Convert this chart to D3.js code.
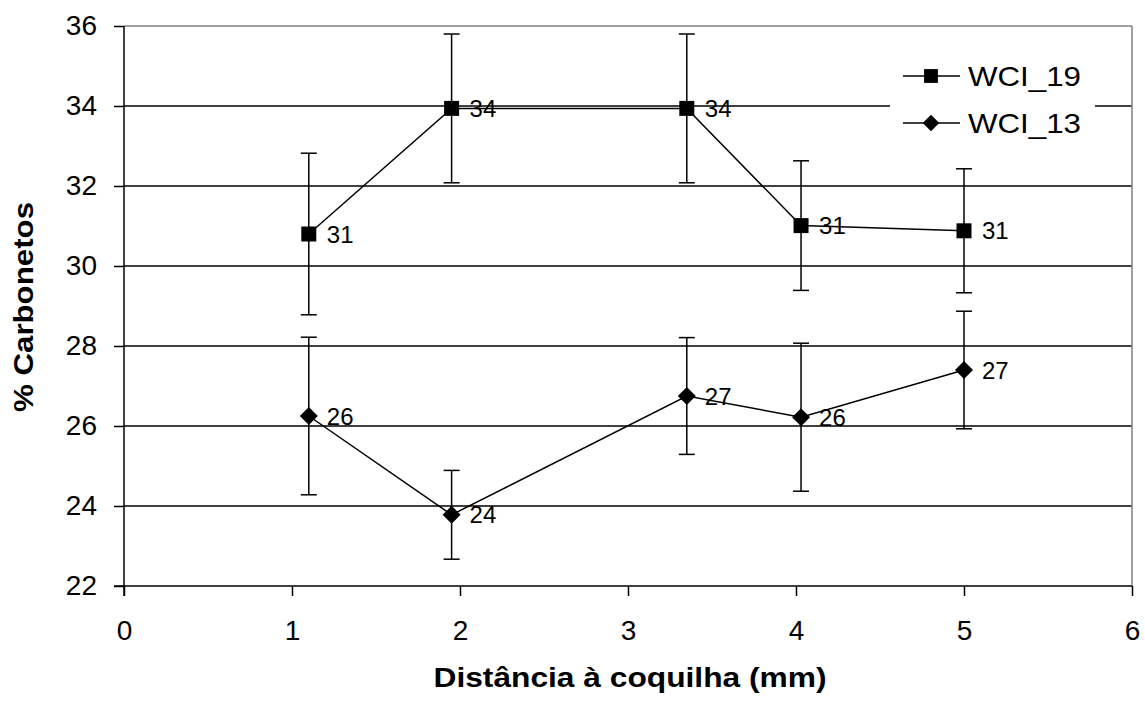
<!DOCTYPE html>
<html>
<head>
<meta charset="utf-8">
<script src="https://cdn.jsdelivr.net/npm/d3@7"></script>
<style>
  html, body { margin: 0; padding: 0; background: #fff; }
  svg { display: block; font-family: "Liberation Sans", Arial, sans-serif; }
</style>
</head>
<body>
<svg id="chart" width="1145" height="702"></svg>
<script>
// Distance from the chill (mm) for each measurement
const distWCI19 = [1.10, 1.95, 3.35, 4.03, 5.00];
const valWCI19  = [30.80, 33.94, 33.94, 31.01, 30.88];
const errWCI19  = [2.02, 1.86, 1.86, 1.62, 1.55];

const distWCI13 = [1.10, 1.95, 3.35, 4.03, 5.00];
const valWCI13  = [26.25, 23.78, 26.75, 26.22, 27.40];
const errWCI13  = [1.97, 1.11, 1.46, 1.85, 1.47];

const seriesNames = ["WCI_19", "WCI_13"];
const xTicks = [0, 1, 2, 3, 4, 5, 6];
const yTicks = [22, 24, 26, 28, 30, 32, 34, 36];

const margin = { left: 124, top: 26, right: 13, bottom: 116 };
const W = 1145, H = 702;
const innerW = W - margin.left - margin.right;
const innerH = H - margin.top - margin.bottom;

const svg = d3.select("#chart");
const g = svg.append("g").attr("transform", `translate(${margin.left},${margin.top})`);

const x = d3.scaleLinear().domain([0, 6]).range([0, innerW]);
const y = d3.scaleLinear().domain([22, 36]).range([innerH, 0]);

// diamond drawn as a square turned 45 degrees
const symbolRhomb = {
  draw(ctx, size) {
    const r = Math.sqrt(size / 2);
    ctx.moveTo(0, -r);
    ctx.lineTo(r, 0);
    ctx.lineTo(0, r);
    ctx.lineTo(-r, 0);
    ctx.closePath();
  }
};

// horizontal gridlines (top one is the grey plot border)
g.selectAll("line.grid").data(yTicks.filter(t => t > 22)).join("line")
  .attr("class", "grid")
  .attr("x1", 0).attr("x2", innerW)
  .attr("y1", d => y(d)).attr("y2", d => y(d))
  .attr("stroke", d => d === 36 ? "#808080" : "#000")
  .attr("stroke-width", 1.5);

// right plot border
g.append("line")
  .attr("x1", innerW).attr("x2", innerW)
  .attr("y1", 0).attr("y2", innerH)
  .attr("stroke", "#808080").attr("stroke-width", 1.5);

// axes
const yAxis = g.append("g").call(
  d3.axisLeft(y).tickValues(yTicks).tickSize(10).tickPadding(17).tickFormat(d3.format("d"))
);
const xAxis = g.append("g").attr("transform", `translate(0,${innerH})`).call(
  d3.axisBottom(x).tickValues(xTicks).tickSize(10).tickPadding(24).tickFormat(d3.format("d"))
);
[yAxis, xAxis].forEach(ax => {
  ax.select(".domain").remove();
  ax.selectAll(".tick line").attr("stroke", "#000").attr("stroke-width", 1.5);
  ax.selectAll(".tick text").attr("fill", "#000")
    .style("font-size", "28px").style("font-family", "'Liberation Sans', Arial, sans-serif");
});
// axis lines
g.append("line").attr("x1", 0).attr("x2", 0).attr("y1", 0).attr("y2", innerH + 10)
  .attr("stroke", "#000").attr("stroke-width", 1.5);
g.append("line").attr("x1", -10).attr("x2", innerW).attr("y1", innerH).attr("y2", innerH)
  .attr("stroke", "#000").attr("stroke-width", 1.5);

// legend background (drawn before the data so it only hides gridlines)
const legend = g.append("g").attr("transform", `translate(${x(0) + 766},29)`);
legend.append("rect").attr("x", 0).attr("y", 0).attr("width", 205).attr("height", 90).attr("fill", "#fff");

const series = [
  { name: seriesNames[0], xs: distWCI19, ys: valWCI19, es: errWCI19, symbol: d3.symbolSquare, size: 225 },
  { name: seriesNames[1], xs: distWCI13, ys: valWCI13, es: errWCI13, symbol: symbolRhomb, size: 162 }
];

const line = d3.line().x(d => x(d.x)).y(d => y(d.y));

series.forEach(s => {
  const pts = s.xs.map((xv, i) => ({ x: xv, y: s.ys[i], e: s.es[i] }));
  const sg = g.append("g");

  // error bars
  const eb = sg.selectAll("g.err").data(pts).join("g").attr("class", "err");
  eb.append("line")
    .attr("x1", d => x(d.x)).attr("x2", d => x(d.x))
    .attr("y1", d => y(d.y + d.e)).attr("y2", d => y(d.y - d.e))
    .attr("stroke", "#000").attr("stroke-width", 1.5);
  eb.append("line")
    .attr("x1", d => x(d.x) - 8).attr("x2", d => x(d.x) + 8)
    .attr("y1", d => y(d.y + d.e)).attr("y2", d => y(d.y + d.e))
    .attr("stroke", "#000").attr("stroke-width", 1.5);
  eb.append("line")
    .attr("x1", d => x(d.x) - 8).attr("x2", d => x(d.x) + 8)
    .attr("y1", d => y(d.y - d.e)).attr("y2", d => y(d.y - d.e))
    .attr("stroke", "#000").attr("stroke-width", 1.5);

  // connecting line
  sg.append("path").datum(pts).attr("d", line)
    .attr("fill", "none").attr("stroke", "#000").attr("stroke-width", 1.5);

  // markers
  sg.selectAll("path.mk").data(pts).join("path").attr("class", "mk")
    .attr("d", d3.symbol().type(s.symbol).size(s.size))
    .attr("transform", d => `translate(${x(d.x)},${y(d.y)})`)
    .attr("fill", "#000");

  // value labels
  sg.selectAll("text.lbl").data(pts).join("text").attr("class", "lbl")
    .attr("x", d => x(d.x) + 18).attr("y", d => y(d.y))
    .attr("dy", "0.36em")
    .style("font-size", "24px")
    .attr("fill", "#000")
    .text(d => Math.round(d.y));
});

// legend entries
series.forEach((s, i) => {
  const row = legend.append("g").attr("transform", `translate(0,${21 + i * 47})`);
  row.append("line").attr("x1", 13).attr("x2", 70).attr("y1", 0).attr("y2", 0)
    .attr("stroke", "#000").attr("stroke-width", 1.5);
  row.append("path").attr("d", d3.symbol().type(s.symbol).size(s.size * 0.85)())
    .attr("transform", "translate(41,0)").attr("fill", "#000");
  row.append("text").attr("x", 78).attr("y", 0).attr("dy", "0.36em")
    .style("font-size", "28px").attr("textLength", 113).attr("lengthAdjust", "spacingAndGlyphs")
    .attr("fill", "#000").text(s.name);
});

// axis titles
svg.append("text")
  .attr("x", margin.left + x(3) + 2).attr("y", 687)
  .attr("text-anchor", "middle")
  .style("font-size", "28px").style("font-weight", "bold")
  .attr("textLength", 393).attr("lengthAdjust", "spacingAndGlyphs")
  .text("Distância à coquilha (mm)");

svg.append("text")
  .attr("transform", `translate(33,307) rotate(-90)`)
  .attr("text-anchor", "middle")
  .style("font-size", "28px").style("font-weight", "bold")
  .attr("textLength", 210).attr("lengthAdjust", "spacingAndGlyphs")
  .text("% Carbonetos");
</script>
</body>
</html>
